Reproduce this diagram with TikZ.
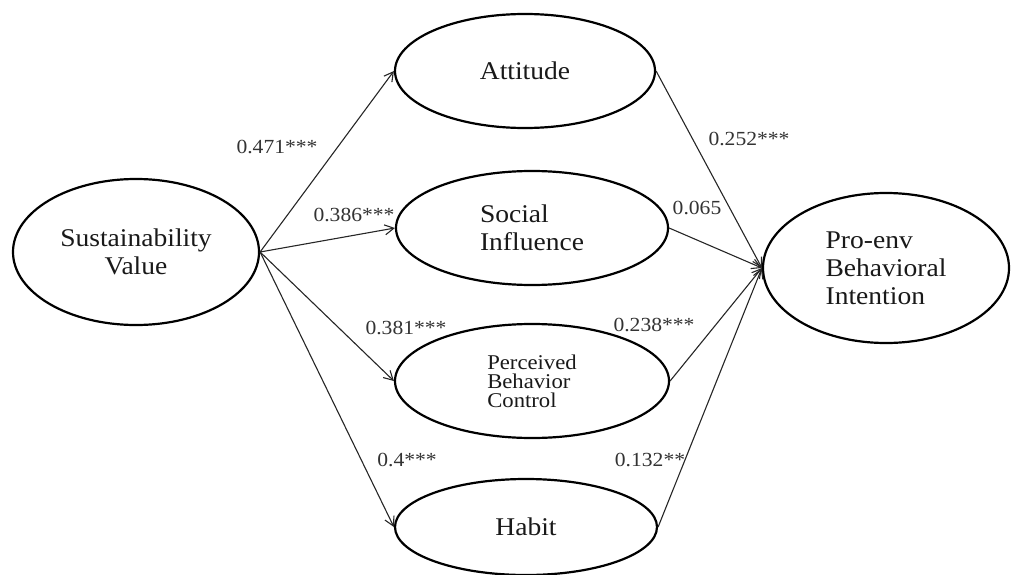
\documentclass[tikz,border=0pt]{standalone}
\usepackage{fontspec}
\setmainfont[FakeStretch=1.08]{Liberation Serif}
\usetikzlibrary{shapes.geometric,arrows.meta}
\begin{document}
\begin{tikzpicture}[x=1pt,y=-1pt,
  lat/.style={ellipse,draw,line width=2.2pt,inner sep=0pt,text=black!90,font=\fontsize{25.5}{28}\selectfont},
  coef/.style={font=\fontsize{20}{22}\selectfont,text=black!80,inner sep=0pt},
  pathline/.style={line width=1.1pt,draw=black!85,-{Straight Barb[length=9pt,width=10pt,line width=1.1pt]}}]
\useasboundingbox (0,0) rectangle (1011,575);
\node[lat,minimum width=246pt,minimum height=146pt,align=center] (sv) at (136,252) {Sustainability\\Value};
\node[lat,minimum width=260pt,minimum height=114pt] (att) at (525,71) {Attitude};
\node[lat,minimum width=272pt,minimum height=114pt,align=left] (si) at (532,228) {Social\\Influence};
\node[lat,minimum width=274pt,minimum height=114pt,align=left,font=\fontsize{21}{19}\selectfont] (pbc) at (532,381) {Perceived\\Behavior\\Control};
\node[lat,minimum width=262pt,minimum height=96pt] (hab) at (526,527) {Habit};
\node[lat,minimum width=246pt,minimum height=150pt,align=left] (pe) at (886,268) {Pro-env\\Behavioral\\Intention};
\draw[pathline] (sv.east) -- (att.west);
\draw[pathline] (sv.east) -- (si.west);
\draw[pathline] (sv.east) -- (pbc.west);
\draw[pathline] (sv.east) -- (hab.west);
\draw[pathline] (att.east) -- (pe.west);
\draw[pathline] (si.east) -- (pe.west);
\draw[pathline] (pbc.east) -- (pe.west);
\draw[pathline] (hab.east) -- (pe.west);
\node[coef] (l1) at (277,147) {0.471***};
\node[coef] (l2) at (354,215) {0.386***};
\node[coef] (l3) at (749,139) {0.252***};
\node[coef] (l4) at (697,208) {0.065};
\node[coef] (l5) at (406,328) {0.381***};
\node[coef] (l6) at (407,460) {0.4***};
\node[coef] (l7) at (654,325) {0.238***};
\node[coef] (l8) at (650,460) {0.132**};
\end{tikzpicture}
\end{document}
